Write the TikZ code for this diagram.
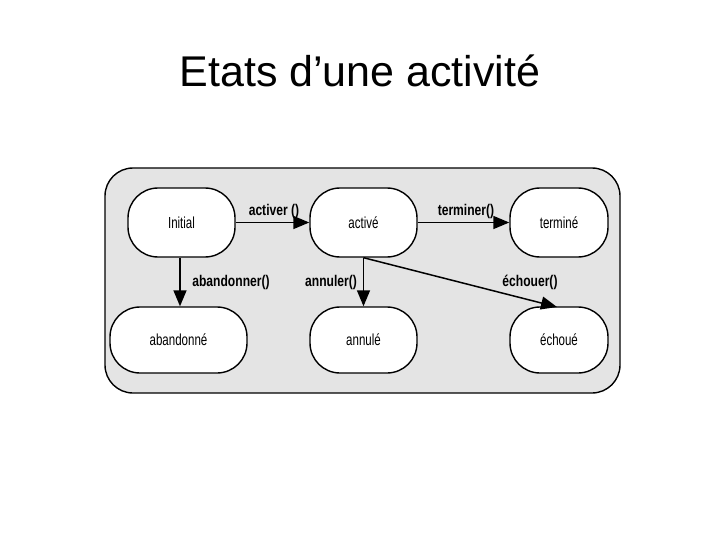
\documentclass[tikz,border=0pt]{standalone}
\usepackage{fontspec}
\setmainfont{Liberation Sans}
\usetikzlibrary{arrows.meta}
\definecolor{panel}{RGB}{228,228,228}
\newcommand{\narrowtxt}[2][0.78]{\scalebox{#1}[1]{#2}}
\tikzset{
  state/.style={draw=black, line width=1.4pt, fill=white, rounded corners=30pt,
    minimum height=69pt, inner sep=0pt, font=\fontsize{16}{16}\selectfont},
  trans/.style={draw=black, line width=1.5pt, -{Triangle[length=16pt,width=13pt]}},
  tlabel/.style={font=\bfseries\fontsize{15.5}{15.5}\selectfont, inner sep=1pt}
}
\begin{document}
\begin{tikzpicture}[x=1pt,y=-1pt]
\useasboundingbox (0,0) rectangle (720,540);
\node[font=\fontsize{43}{43}\selectfont, anchor=base] (title) at (360,87) {Etats d’une activité};
\draw[line width=1.4pt, fill=panel, rounded corners=28pt] (105,168) rectangle (620,393);
\node[state, minimum width=107pt] (init) at (181.5,222.5) {\narrowtxt[0.72]{Initial}};
\node[state, minimum width=107pt] (active) at (363.5,222.5) {\narrowtxt[0.72]{activé}};
\node[state, minimum width=98pt] (term) at (559,222.5) {\narrowtxt[0.72]{terminé}};
\node[state, minimum width=137pt, minimum height=66pt] (aband) at (178.5,340) {\narrowtxt[0.72]{abandonné}};
\node[state, minimum width=107pt, minimum height=66pt] (annul) at (363.5,340) {\narrowtxt[0.72]{annulé}};
\node[state, minimum width=98pt, minimum height=66pt] (echoue) at (559,340) {\narrowtxt[0.72]{échoué}};
\coordinate (echend) at (557,307);
\draw[trans] (init.east) -- (active.west);
\draw[trans] (active.east) -- (term.west);
\draw[trans] (init.south -| 180,0) -- (aband.north -| 180,0);
\draw[trans] (active.south) -- (annul.north);
\draw[trans] (active.south) -- (echend);
\node[tlabel] (l1) at (274,211) {\narrowtxt{activer ()}};
\node[tlabel] (l2) at (466,211) {\narrowtxt{terminer()}};
\node[tlabel] (l3) at (231,282) {\narrowtxt{abandonner()}};
\node[tlabel] (l4) at (331,282) {\narrowtxt{annuler()}};
\node[tlabel] (l5) at (530,282) {\narrowtxt{échouer()}};
\end{tikzpicture}
\end{document}
